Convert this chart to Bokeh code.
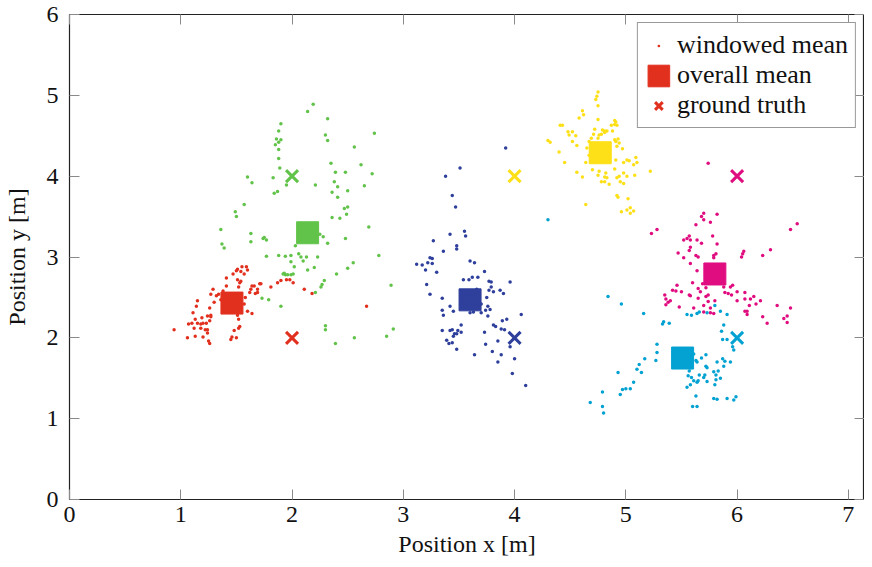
from bokeh.plotting import figure
from bokeh.models import LinearAxis, Legend, LegendItem, FixedTicker
from bokeh.embed import file_html
from bokeh.resources import INLINE

# ---------------- data ----------------
red_pts = [(0.94,2.10),(1.06,2.00),(1.13,2.02),(1.07,2.17),(1.10,2.18),(1.12,2.12),(1.15,2.18),(1.18,2.17),
           (1.20,2.18),(1.23,2.18),(1.13,2.23),(1.11,2.31),(1.14,2.39),(1.15,2.46),(1.24,2.27),(1.27,2.28),
           (1.26,2.21),(1.24,2.10),(1.24,2.06),(1.20,2.01),(1.25,1.96),(1.26,1.93),(1.26,2.37),(1.30,2.44),
           (1.27,2.54),(1.29,2.60),(1.32,2.52),(1.34,2.54),(1.38,2.58),(1.41,2.64),(1.41,2.74),(1.47,2.79),
           (1.50,2.83),(1.51,2.85),(1.54,2.82),(1.55,2.88),(1.59,2.88),(1.60,2.84),(1.57,2.79),(1.53,2.68),
           (1.51,2.72),(1.54,2.70),(1.52,2.63),(1.51,2.28),(1.52,2.23),(1.53,2.14),(1.52,2.12),(1.48,2.09),
           (1.46,2.01),(1.45,1.98),(1.50,2.00),(1.57,2.42),(1.60,2.33),(1.62,2.56),(1.63,2.60),(1.64,2.64),
           (1.66,2.64),(1.67,2.55),(1.69,2.56),(1.69,2.60),(1.71,2.67),(1.72,2.67),(1.81,2.63),(1.87,2.68),
           (1.90,2.71),(1.95,2.72),(1.98,2.72),(2.01,2.68),(2.11,2.60),(2.18,2.55),(2.67,2.39),(1.18,2.12),
           (1.27,2.26),(1.22,2.10),(1.19,2.25),(1.42,2.50),(1.36,2.47),(1.58,2.50),(1.64,2.30)]

green_pts = [(2.19,4.89),(2.14,4.80),(2.32,4.71),(1.90,4.65),(1.88,4.56),(2.30,4.51),(2.32,4.44),(2.74,4.53),
             (1.86,4.46),(1.90,4.45),(1.88,4.42),(1.85,4.39),(1.88,4.33),(2.56,4.36),(1.88,4.22),(2.35,4.16),
             (2.62,4.14),(1.89,4.10),(2.39,4.05),(2.48,4.05),(2.72,4.03),(1.60,3.99),(1.64,3.92),(1.83,3.98),
             (1.95,3.89),(2.21,3.89),(2.38,3.93),(2.41,3.87),(2.65,3.88),(1.87,3.81),(1.84,3.79),(2.36,3.80),
             (2.50,3.82),(2.41,3.74),(1.57,3.65),(1.49,3.56),(1.50,3.50),(2.50,3.62),(2.47,3.60),(2.49,3.53),
             (2.36,3.49),(2.43,3.48),(2.69,3.37),(1.36,3.34),(1.63,3.29),(1.75,3.24),(1.77,3.21),(1.74,3.23),
             (1.63,3.19),(2.25,3.28),(2.28,3.25),(2.32,3.17),(2.48,3.23),(2.03,3.14),(1.37,3.16),(1.39,3.11),
             (1.77,3.01),(1.88,3.02),(1.94,3.01),(1.99,3.02),(2.06,3.04),(2.08,3.00),(2.13,3.00),(2.23,3.00),
             (2.78,3.02),(1.99,2.94),(2.10,2.95),(2.02,2.88),(2.20,2.87),(2.14,2.84),(2.55,2.93),(2.50,2.86),
             (2.40,2.79),(1.92,2.79),(1.94,2.78),(1.96,2.78),(1.99,2.78),(2.01,2.79),(1.93,2.80),(2.29,2.71),
             (2.27,2.66),(2.26,2.63),(2.89,2.65),(2.21,2.56),(1.73,2.49),(1.79,2.47),(1.90,2.39),(2.30,2.15),
             (2.30,2.10),(2.91,2.11),(2.85,2.02),(2.56,2.00),(2.39,1.93)]

blue_pts = [(3.92,4.35),(3.51,4.10),(3.38,4.00),(3.44,3.76),(3.47,3.62),(3.42,3.28),(3.55,3.32),(3.56,3.26),
            (3.27,3.20),(3.48,3.14),(3.48,3.10),(3.36,3.07),(3.24,2.99),(3.26,2.98),(3.12,2.91),(3.17,2.90),
            (3.22,2.93),(3.26,2.92),(3.20,2.84),(3.30,2.81),(3.60,2.95),(3.64,2.93),(3.73,2.82),(3.54,2.72),
            (3.59,2.72),(3.62,2.75),(3.67,2.75),(3.77,2.70),(3.79,2.69),(3.79,2.63),(3.77,2.59),(3.81,2.57),
            (3.87,2.59),(3.90,2.55),(3.96,2.69),(3.21,2.66),(3.24,2.54),(3.75,2.50),(3.35,2.49),(3.66,2.60),
            (3.67,2.48),(3.70,2.42),(3.76,2.39),(3.78,2.35),(3.74,2.34),(3.70,2.31),(3.76,2.27),(3.42,2.39),
            (3.35,2.34),(3.36,2.28),(3.45,2.33),(3.60,2.31),(3.63,2.32),(4.06,2.29),(3.52,2.16),(3.35,2.09),
            (3.42,2.09),(3.44,2.10),(3.46,2.05),(3.49,2.09),(3.52,2.07),(3.45,2.02),(3.48,2.05),(3.39,1.97),
            (3.44,1.94),(3.41,1.93),(3.48,1.86),(3.73,2.07),(3.81,2.16),(3.83,2.14),(3.89,2.21),(3.93,2.23),
            (3.88,2.11),(3.91,2.10),(3.85,1.96),(3.74,1.92),(3.96,1.89),(3.64,1.79),(3.80,1.83),(3.88,1.79),
            (4.00,1.74),(3.85,1.70),(3.98,1.56),(4.10,1.41)]

yellow_pts = [(4.75,5.04),(4.74,4.99),(4.73,4.95),(4.75,4.87),(4.61,4.81),(4.62,4.76),(4.58,4.72),(4.75,4.70),
              (4.41,4.63),(4.43,4.63),(4.90,4.69),(4.91,4.67),(4.90,4.64),(4.92,4.63),(4.87,4.63),(4.72,4.58),
              (4.79,4.57),(4.81,4.56),(4.83,4.56),(4.78,4.52),(4.81,4.54),(4.76,4.51),(4.88,4.56),(4.48,4.55),
              (4.52,4.55),(4.49,4.51),(4.71,4.52),(4.55,4.50),(4.69,4.47),(4.75,4.47),(4.90,4.45),(4.93,4.46),
              (4.91,4.43),(4.94,4.41),(4.92,4.37),(4.30,4.44),(4.32,4.42),(4.52,4.43),(4.67,4.43),(4.56,4.38),
              (4.97,4.34),(4.40,4.30),(4.65,4.35),(4.67,4.26),(4.98,4.17),(5.01,4.20),(5.03,4.19),(5.09,4.23),
              (5.10,4.17),(5.07,4.14),(4.45,4.17),(4.64,4.17),(4.91,4.20),(4.70,4.08),(4.76,4.06),(4.82,4.04),
              (4.56,4.05),(4.90,4.09),(4.98,4.04),(5.01,4.00),(4.75,4.01),(4.81,3.99),(4.83,3.98),(4.92,3.98),
              (4.94,4.00),(5.08,4.01),(4.61,3.99),(4.78,3.93),(4.81,3.93),(4.85,3.90),(4.95,3.93),(4.98,3.91),
              (4.93,3.74),(4.92,3.76),(5.02,3.72),(4.64,3.65),(5.04,3.61),(5.07,3.57),(5.01,3.58),(4.96,3.56),
              (5.04,3.54),(5.22,4.06)]

magenta_pts = [(5.74,4.16),(5.70,3.54),(5.68,3.50),(5.70,3.46),(5.82,3.53),(5.76,3.43),(5.63,3.40),(5.28,3.34),
               (5.23,3.29),(6.48,3.34),(6.54,3.41),(5.52,3.21),(5.55,3.23),(5.58,3.21),(5.57,3.26),(5.78,3.26),
               (5.64,3.21),(5.68,3.17),(5.82,3.16),(5.58,3.12),(5.57,3.08),(5.47,3.05),(5.63,3.02),(5.65,3.00),
               (5.79,3.02),(5.81,3.04),(5.79,2.99),(6.06,3.07),(6.05,3.04),(6.04,3.00),(6.30,3.09),(6.23,3.02),
               (5.52,2.99),(5.58,2.92),(5.64,2.83),(5.60,2.68),(5.69,2.67),(5.65,2.61),(5.67,2.57),(5.72,2.62),
               (5.74,2.53),(5.72,2.51),(5.46,2.65),(5.42,2.59),(5.45,2.58),(5.50,2.57),(5.35,2.53),(5.36,2.48),
               (5.40,2.46),(5.36,2.41),(5.38,2.44),(5.57,2.53),(5.58,2.52),(5.65,2.49),(5.88,2.63),(5.94,2.63),
               (5.96,2.65),(5.89,2.56),(5.92,2.55),(5.95,2.53),(6.00,2.57),(6.07,2.56),(6.15,2.51),(6.12,2.48),
               (6.07,2.48),(6.11,2.40),(6.07,2.33),(6.09,2.29),(6.09,2.33),(6.17,2.42),(6.00,2.46),(6.21,2.46),
               (6.36,2.40),(6.23,2.26),(6.27,2.18),(6.42,2.24),(6.45,2.27),(6.48,2.37),(6.45,2.19),(5.48,2.38),
               (5.61,2.37),(5.70,2.40),(5.74,2.45),(5.76,2.37),(5.76,2.31),(5.79,2.30),(5.80,2.46),(5.70,2.32)]

cyan_pts = [(4.84,2.51),(4.96,2.42),(5.16,2.30),(5.55,2.29),(5.59,2.28),(5.64,2.30),(5.66,2.32),(5.73,2.31),
            (5.80,2.40),(5.85,2.33),(5.91,2.29),(5.33,2.17),(5.34,2.20),(5.39,2.18),(5.88,2.16),(5.86,2.08),
            (5.87,1.98),(5.91,1.98),(5.96,1.89),(5.97,1.85),(5.28,1.92),(5.28,1.82),(5.17,1.74),(5.27,1.72),
            (5.12,1.67),(5.10,1.61),(5.14,1.57),(4.93,1.57),(5.07,1.45),(5.00,1.37),(5.04,1.37),(4.97,1.36),
            (4.95,1.30),(4.79,1.33),(4.68,1.20),(4.79,1.15),(4.80,1.07),(5.61,1.80),(5.63,1.72),(5.64,1.70),
            (5.68,1.75),(5.72,1.79),(5.72,1.65),(5.73,1.63),(5.58,1.63),(5.57,1.59),(5.82,1.70),(5.87,1.74),
            (5.89,1.71),(5.94,1.70),(5.88,1.65),(5.83,1.59),(5.81,1.54),(5.79,1.58),(5.81,1.48),(5.80,1.42),
            (5.85,1.50),(5.66,1.54),(5.70,1.51),(5.71,1.54),(5.73,1.46),(5.56,1.53),(5.59,1.51),(5.61,1.47),
            (5.64,1.45),(5.65,1.47),(5.58,1.42),(5.55,1.39),(5.63,1.28),(5.79,1.25),(5.82,1.24),(5.91,1.25),
            (5.99,1.27),(5.97,1.23),(5.60,1.15),(5.64,1.15),(4.30,3.46)]

names = ["red", "green", "blue", "yellow", "magenta", "cyan"]
colors = ["#e2301f", "#62c34a", "#2e3f9c", "#fde017", "#e00d80", "#03a2d2"]
windowed = [red_pts, green_pts, blue_pts, yellow_pts, magenta_pts, cyan_pts]
mean_x = [1.46, 2.14, 3.60, 4.77, 5.80, 5.51]
mean_y = [2.43, 3.30, 2.47, 4.29, 2.79, 1.75]
truth_x = [2, 2, 4, 4, 6, 6]
truth_y = [2, 4, 2, 4, 4, 2]

x_ticks = [0, 1, 2, 3, 4, 5, 6, 7]
y_ticks = [0, 1, 2, 3, 4, 5, 6]
legend_labels = ["windowed mean", "overall mean", "ground truth"]

FONT = "Liberation Serif"
FS = "24px"

p = figure(width=864, height=559, x_range=(0, 7.145), y_range=(0, 6),
           output_backend="svg", toolbar_location=None,
           x_axis_label="Position x [m]", y_axis_label="Position y [m]",
           min_border_left=68, min_border_right=0, min_border_top=14, min_border_bottom=60)
p.grid.visible = False
p.outline_line_color = "#222222"
p.outline_line_width = 1.2
p.background_fill_color = "white"
p.border_fill_color = "white"

for ax, ticks in ((p.xaxis[0], x_ticks), (p.yaxis[0], y_ticks)):
    ax.ticker = FixedTicker(ticks=ticks)
    ax.axis_line_color = None
    ax.major_tick_in = 10
    ax.major_tick_out = 0
    ax.major_tick_line_color = "#8a8a8a"
    ax.minor_tick_line_color = None
    ax.major_label_text_font = FONT
    ax.major_label_text_font_size = FS
    ax.major_label_text_color = "#111111"
    ax.axis_label_text_font = FONT
    ax.axis_label_text_font_size = FS
    ax.axis_label_text_font_style = "normal"
    ax.axis_label_text_color = "#111111"
p.xaxis[0].major_label_standoff = 7
p.xaxis[0].axis_label_standoff = 6
p.yaxis[0].major_label_standoff = 11
p.yaxis[0].axis_label_standoff = 14

for side, ticks in (("above", x_ticks), ("right", y_ticks)):
    ax = LinearAxis(ticker=FixedTicker(ticks=ticks))
    ax.major_label_overrides = {t: "" for t in ticks}
    ax.axis_line_color = None
    ax.major_tick_in = 10
    ax.major_tick_out = 0
    ax.major_tick_line_color = "#8a8a8a"
    ax.minor_tick_line_color = None
    ax.major_label_standoff = 0
    p.add_layout(ax, side)

dot_r, mean_r, truth_r = {}, {}, {}
for name, col, pts in zip(names, colors, windowed):
    xs = [a for a, b in pts]
    ys = [b for a, b in pts]
    dot_r[name] = p.scatter(xs, ys, marker="dot", size=14, line_color=col, fill_color=col)
for name, col, mx, my in zip(names, colors, mean_x, mean_y):
    mean_r[name] = p.rect([mx], [my], width=22, height=22, width_units="screen", height_units="screen",
                          fill_color=col, line_color=col)
for name, col, tx, ty in zip(names, colors, truth_x, truth_y):
    truth_r[name] = p.scatter([tx], [ty], marker="x", size=17, line_color=col, line_width=3)

legend = Legend(items=[
    LegendItem(label=legend_labels[0], renderers=[dot_r["red"]]),
    LegendItem(label=legend_labels[1], renderers=[mean_r["red"]]),
    LegendItem(label=legend_labels[2], renderers=[truth_r["red"]]),
], location="top_right")
legend.label_text_font = FONT
legend.label_text_font_size = "26px"
legend.label_text_color = "#111111"
legend.glyph_width = 27
legend.glyph_height = 27
legend.label_height = 30
legend.label_standoff = 5
legend.spacing = 0
legend.padding = 7
legend.margin = 8
legend.border_line_color = "#333333"
legend.border_line_width = 1.2
legend.background_fill_alpha = 1
p.add_layout(legend, "center")

open("out.html", "w").write(file_html(p, INLINE))
